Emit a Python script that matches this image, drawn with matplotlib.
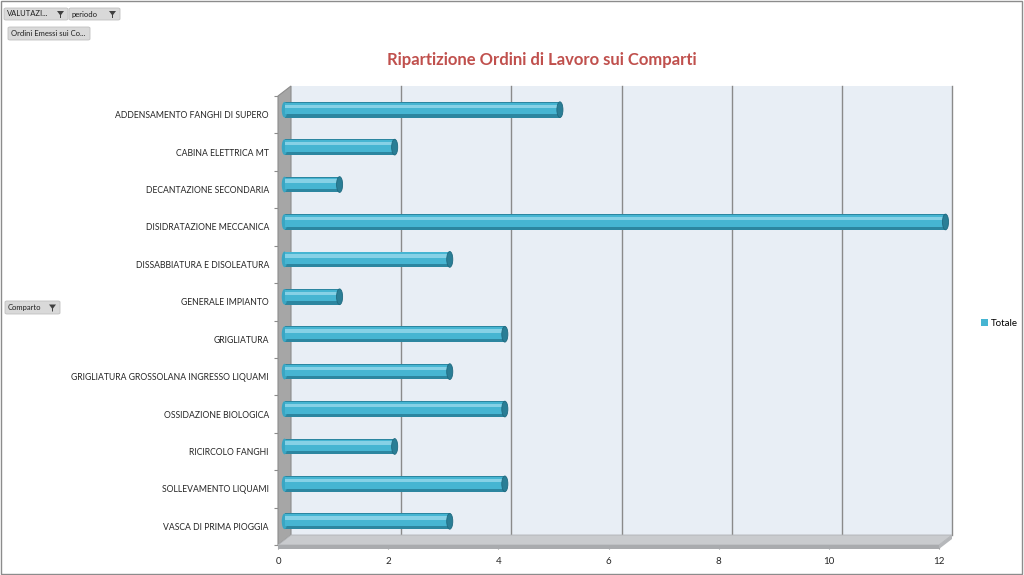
import matplotlib
matplotlib.use("Agg")
import matplotlib.pyplot as plt
from matplotlib.patches import Polygon, Rectangle, Ellipse, FancyBboxPatch
from matplotlib.transforms import offset_copy

plt.rcParams['font.family'] = ['Lato', 'DejaVu Sans']

# data
categories = ['ADDENSAMENTO FANGHI DI SUPERO', 'CABINA ELETTRICA MT',
              'DECANTAZIONE SECONDARIA', 'DISIDRATAZIONE MECCANICA',
              'DISSABBIATURA E DISOLEATURA', 'GENERALE IMPIANTO', 'GRIGLIATURA',
              'GRIGLIATURA GROSSOLANA INGRESSO LIQUAMI', 'OSSIDAZIONE BIOLOGICA',
              'RICIRCOLO FANGHI', 'SOLLEVAMENTO LIQUAMI', 'VASCA DI PRIMA PIOGGIA']
totale = [5, 2, 1, 12, 3, 1, 4, 3, 4, 2, 4, 3]
x_ticks = [0, 2, 4, 6, 8, 10, 12]
series_name = 'Totale'
title = 'Ripartizione Ordini di Lavoro sui Comparti'

W, H = 1024, 575
fig = plt.figure(figsize=(W / 100, H / 100), dpi=100)
fig.patch.set_facecolor('white')


def fx(x):
    return x / W


def fy(y):
    return 1 - y / H


# front plane of the 3D plot, in image pixels
L, R, T, B = 278, 939, 96, 545
DX, DY = 13, 10  # depth offset (right, up)

ax = fig.add_axes([fx(L), fy(B), (R - L) / W, (B - T) / H])
ax.set_xlim(0, 12)
ax.set_ylim(len(categories) - 0.5, -0.5)
ax.patch.set_visible(False)
for s in ax.spines.values():
    s.set_visible(False)

back = offset_copy(ax.transData, fig=fig, x=DX, y=DY, units='dots')
mid = offset_copy(ax.transData, fig=fig, x=6.5, y=5, units='dots')

# back wall + gridlines
ax.add_patch(Rectangle((0, -0.5), 12, len(categories), transform=back,
                       facecolor='#E8EEF5', edgecolor='none', zorder=0, clip_on=False))
for v in x_ticks[1:]:
    ax.plot([v, v], [-0.5, len(categories) - 0.5], transform=back,
            color='#8A8A8A', lw=1, zorder=1, clip_on=False)

# left wall and floor (decor placed in figure coordinates, drawn under the bars)
ft = fig.transFigure
wall = Polygon([(fx(L), fy(B)), (fx(L), fy(T)), (fx(L + DX), fy(T - DY)),
                (fx(L + DX), fy(B - DY))], closed=True,
               facecolor='#A6A6A6', edgecolor='#8C8C8C', lw=0.8)
floor_top = Polygon([(fx(L), fy(B)), (fx(R), fy(B)), (fx(R + DX), fy(B - DY)),
                     (fx(L + DX), fy(B - DY))], closed=True,
                    facecolor='#C9CBCE', edgecolor='#B0B2B5', lw=0.6)
floor_front = Polygon([(fx(L), fy(B)), (fx(R), fy(B)), (fx(R), fy(B + 4)),
                       (fx(L), fy(B + 4))], closed=True,
                      facecolor='#A9ABAE', edgecolor='none')
floor_side = Polygon([(fx(R), fy(B)), (fx(R + DX), fy(B - DY)), (fx(R + DX), fy(B - DY + 4)),
                      (fx(R), fy(B + 4))], closed=True,
                     facecolor='#B5B7BA', edgecolor='none')
for p in (wall, floor_top, floor_front, floor_side):
    p.set_transform(ft)
    p.set_zorder(2)
    p.set_clip_on(False)
    ax.add_artist(p)

# cylinder-like bars
ypos = list(range(len(categories)))
bh = 0.42
ax.barh(ypos, totale, height=bh, color='#2C86A0', transform=mid, zorder=3, clip_on=False)
ax.barh([y - 0.03 for y in ypos], totale, height=bh * 0.74, color='#46B5D2',
        transform=mid, zorder=4, clip_on=False, label=series_name)
ax.barh([y - 0.09 for y in ypos], totale, height=bh * 0.22, color='#86D1E6',
        transform=mid, zorder=5, clip_on=False)
for y, v in zip(ypos, totale):
    ax.add_patch(Ellipse((0, y), 0.1, bh, transform=mid, facecolor='#3AA6C3',
                         edgecolor='none', zorder=3, clip_on=False))
    ax.add_patch(Ellipse((v, y), 0.11, bh, transform=mid, facecolor='#2A7E96',
                         edgecolor='#1F6A80', lw=0.6, zorder=6, clip_on=False))

# axes ticks / labels
ax.set_yticks(ypos)
ax.set_yticklabels(categories, fontsize=6.2, color='#262626')
ax.tick_params(axis='y', length=0, pad=6.5)
ax.set_yticks([y - 0.5 for y in ypos] + [len(categories) - 0.5], minor=True)
ax.tick_params(axis='y', which='minor', length=3, color='#8C8C8C', width=0.8)
ax.set_xticks(x_ticks)
ax.set_xticklabels([str(v) for v in x_ticks], fontsize=7, color='#262626')
ax.tick_params(axis='x', length=3, pad=5.5, color='#8C8C8C', width=0.8)

# title
fig.text(fx(542), fy(60), title, ha='center', va='center', fontsize=12,
         fontweight='bold', color='#C0504D')

# legend
fig.legend(loc='center left', bbox_to_anchor=(fx(976), fy(323)), frameon=False,
           fontsize=7, handlelength=0.7, handleheight=0.7, handletextpad=0.3,
           borderpad=0)


# pivot field buttons
def button(x0, y0, x1, y1, text, funnel=True):
    fig.add_artist(FancyBboxPatch((fx(x0), fy(y1)), fx(x1 - x0), (y1 - y0) / H,
                                  boxstyle='round,pad=0,rounding_size=0.002',
                                  transform=ft, facecolor='#D9D9D9',
                                  edgecolor='#BFBFBF', lw=0.6))
    fig.text(fx(x0 + 3), fy((y0 + y1) / 2), text, fontsize=5.5, color='#1F1F1F',
             ha='left', va='center')
    if funnel:
        cx, cy = x1 - 7, (y0 + y1) / 2
        fig.add_artist(Polygon([(fx(cx - 4), fy(cy - 3)), (fx(cx + 3), fy(cy - 3)),
                                (fx(cx), fy(cy + 1)), (fx(cx), fy(cy + 4)),
                                (fx(cx - 1), fy(cy + 4)), (fx(cx - 1), fy(cy + 1))],
                               closed=True, transform=ft, facecolor='#404040',
                               edgecolor='none'))


button(4, 8, 68, 20, 'VALUTAZI...')
button(69, 8, 120, 20, 'periodo')
button(8, 27, 90, 40, 'Ordini Emessi sui Co...', funnel=False)
button(5, 301, 60, 314, 'Comparto')

# chart area border
fig.add_artist(Rectangle((0.001, 0.002), 0.997, 0.996, transform=ft,
                         fill=False, edgecolor='#8C8C8C', lw=1))

fig.savefig('out.png', dpi=100, facecolor='white')
